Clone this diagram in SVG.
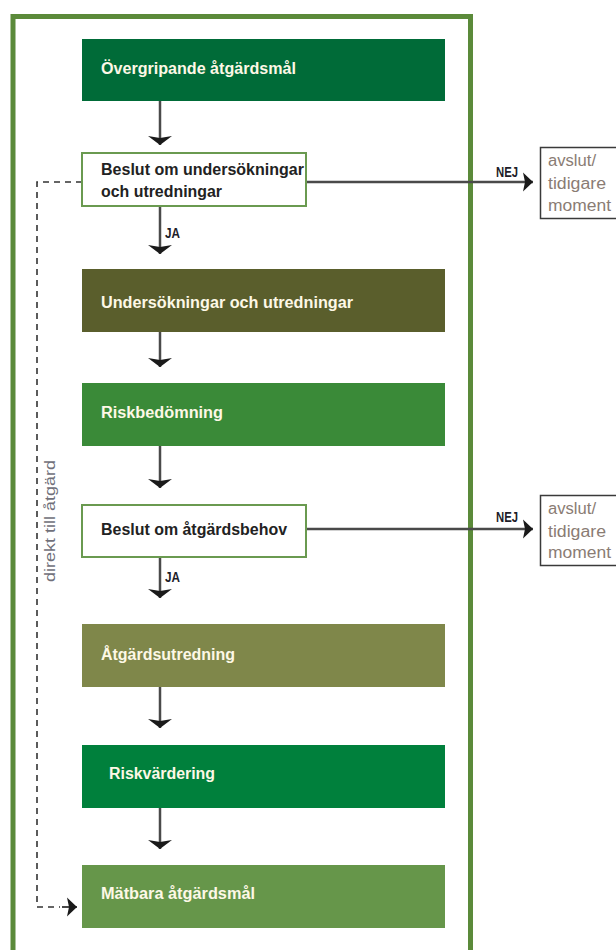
<svg xmlns="http://www.w3.org/2000/svg" width="616" height="950" viewBox="0 0 616 950">
<defs>
<style>
.frame{fill:none;stroke:#5b8a3a;stroke-width:5}
.box{stroke:none}
.dec{fill:#ffffff;stroke:#6a9a50;stroke-width:2}
.end{fill:#ffffff;stroke:#3a3a3a;stroke-width:1.5}
.lbl{font-family:"Liberation Sans Narrow","Liberation Sans",Arial,sans-serif;font-weight:bold;font-size:16px;fill:#fdf8e6}
.dlbl{font-family:"Liberation Sans Narrow","Liberation Sans",Arial,sans-serif;font-weight:bold;font-size:16px;fill:#222222}
.small{font-family:"Liberation Sans Narrow","Liberation Sans",Arial,sans-serif;font-weight:bold;font-size:14px;fill:#1e1e2a}
.end-t{font-family:"Liberation Sans Narrow","Liberation Sans",Arial,sans-serif;font-size:16px;fill:#8a7c74}
.side{font-family:"Liberation Sans Narrow","Liberation Sans",Arial,sans-serif;font-size:14px;fill:#70707a}
.flow{fill:none;stroke:#4a4a4a;stroke-width:2.5}
.dash{fill:none;stroke:#333333;stroke-width:1.6;stroke-dasharray:6 5}
</style>
<marker id="headDown" markerUnits="userSpaceOnUse" viewBox="-10 -13 12 26" markerWidth="12" markerHeight="26" refX="0" refY="0" orient="auto">
<path d="M-9,-12 L0,0 L-9,12 L-7,0 Z" fill="#1a1a1a"/>
</marker>
<marker id="headRight" markerUnits="userSpaceOnUse" viewBox="-11 -10 12 20" markerWidth="12" markerHeight="20" refX="0" refY="0" orient="auto">
<path d="M-10,-9.5 L0,0 L-10,9.5 L-8,0 Z" fill="#1a1a1a"/>
</marker>
</defs>
<rect width="616" height="950" fill="#ffffff"/>
<rect id="frame" class="frame" x="13" y="16.5" width="457.5" height="936"/>

<g id="connectors">
<line class="flow" x1="160" y1="101" x2="160" y2="145" marker-end="url(#headDown)"/>
<line class="flow" x1="160" y1="207" x2="160" y2="254" marker-end="url(#headDown)"/>
<line class="flow" x1="160" y1="332" x2="160" y2="367" marker-end="url(#headDown)"/>
<line class="flow" x1="160" y1="446" x2="160" y2="488" marker-end="url(#headDown)"/>
<line class="flow" x1="160" y1="557" x2="160" y2="598" marker-end="url(#headDown)"/>
<line class="flow" x1="160" y1="687" x2="160" y2="728" marker-end="url(#headDown)"/>
<line class="flow" x1="160" y1="808" x2="160" y2="849" marker-end="url(#headDown)"/>
<line class="flow" x1="306" y1="182" x2="533" y2="182" marker-end="url(#headRight)"/>
<line class="flow" x1="306" y1="529" x2="533" y2="529" marker-end="url(#headRight)"/>
<polyline class="dash" points="82,182 37,182 37,907 60,907"/>
<line x1="62" y1="907" x2="77" y2="907" stroke="#1a1a1a" stroke-width="1.6" marker-end="url(#headRight)"/>
<text class="small" x="165" y="238" textLength="15" lengthAdjust="spacingAndGlyphs">JA</text>
<text class="small" x="165" y="582" textLength="15" lengthAdjust="spacingAndGlyphs">JA</text>
<text class="small" x="496" y="177" textLength="22" lengthAdjust="spacingAndGlyphs">NEJ</text>
<text class="small" x="496" y="522" textLength="22" lengthAdjust="spacingAndGlyphs">NEJ</text>
<text class="side" transform="translate(55,521) rotate(-90)" text-anchor="middle" textLength="122" lengthAdjust="spacingAndGlyphs">direkt till åtgärd</text>
</g>

<g id="n1">
<rect class="box" x="82" y="39" width="363" height="62" fill="#006b38"/>
<text class="lbl" x="101" y="74" textLength="195" lengthAdjust="spacingAndGlyphs">Övergripande åtgärdsmål</text>
</g>
<g id="n2">
<rect class="dec" x="82" y="153" width="224" height="53"/>
<text class="dlbl" x="101" y="175" textLength="203" lengthAdjust="spacingAndGlyphs">Beslut om undersökningar</text>
<text class="dlbl" x="101" y="197" textLength="121" lengthAdjust="spacingAndGlyphs">och utredningar</text>
</g>
<g id="n3">
<rect class="box" x="82" y="269" width="363" height="63" fill="#5a5e2c"/>
<text class="lbl" x="101" y="308" textLength="252" lengthAdjust="spacingAndGlyphs">Undersökningar och utredningar</text>
</g>
<g id="n4">
<rect class="box" x="82" y="383" width="363" height="63" fill="#3a8a38"/>
<text class="lbl" x="101" y="418" textLength="122" lengthAdjust="spacingAndGlyphs">Riskbedömning</text>
</g>
<g id="n5">
<rect class="dec" x="82" y="505" width="224" height="52"/>
<text class="dlbl" x="101" y="535" textLength="186" lengthAdjust="spacingAndGlyphs">Beslut om åtgärdsbehov</text>
</g>
<g id="n6">
<rect class="box" x="82" y="624" width="363" height="63" fill="#7f874a"/>
<text class="lbl" x="101" y="660" textLength="134" lengthAdjust="spacingAndGlyphs">Åtgärdsutredning</text>
</g>
<g id="n7">
<rect class="box" x="82" y="745" width="363" height="63" fill="#00803c"/>
<text class="lbl" x="109" y="779" textLength="106" lengthAdjust="spacingAndGlyphs">Riskvärdering</text>
</g>
<g id="n8">
<rect class="box" x="82" y="865" width="363" height="63" fill="#66964a"/>
<text class="lbl" x="101" y="899" textLength="154" lengthAdjust="spacingAndGlyphs">Mätbara åtgärdsmål</text>
</g>
<g id="e1">
<rect class="end" x="540.5" y="147.5" width="80" height="71"/>
<text class="end-t" x="548" y="166" textLength="48" lengthAdjust="spacingAndGlyphs">avslut/</text>
<text class="end-t" x="548" y="189" textLength="58" lengthAdjust="spacingAndGlyphs">tidigare</text>
<text class="end-t" x="548" y="211" textLength="63" lengthAdjust="spacingAndGlyphs">moment</text>
</g>
<g id="e2">
<rect class="end" x="540.5" y="495.5" width="80" height="70"/>
<text class="end-t" x="548" y="514" textLength="48" lengthAdjust="spacingAndGlyphs">avslut/</text>
<text class="end-t" x="548" y="537" textLength="58" lengthAdjust="spacingAndGlyphs">tidigare</text>
<text class="end-t" x="548" y="558" textLength="63" lengthAdjust="spacingAndGlyphs">moment</text>
</g>
</svg>
